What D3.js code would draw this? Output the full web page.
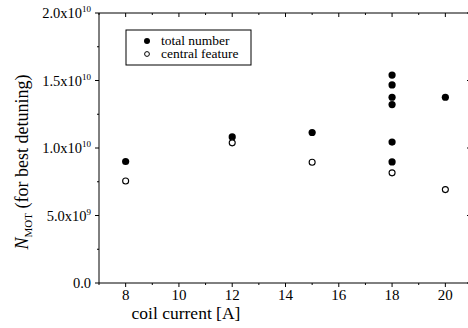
<!DOCTYPE html>
<html lang="en">
<head>
<meta charset="UTF-8" />
<title>N_MOT vs coil current</title>
<script src="https://d3js.org/d3.v7.min.js"></script>
<style>
    body { margin: 0; background: #fff; }
    svg, svg text, svg tspan { font-family: "Liberation Serif", "Times New Roman", "DejaVu Serif", serif; fill: #000; }
    .axis line { stroke: #000; stroke-width: 1; }
</style>
</head>
<body>
<svg width="468" height="328" font-family="Liberation Serif, serif"></svg>
<script>
    // data
    const totalCurrent = [8, 12, 15, 18, 18, 18, 18, 18, 18, 20];
    const totalNumber = [9.0e9, 10.82e9, 11.15e9, 15.4e9, 14.67e9, 13.76e9, 13.22e9, 10.44e9, 8.97e9, 13.76e9];
    const centralCurrent = [8, 12, 15, 18, 20];
    const centralNumber = [7.56e9, 10.38e9, 8.94e9, 8.16e9, 6.92e9];
    const xTicks = [8, 10, 12, 14, 16, 18, 20];
    const yTicks = [0, 5e9, 1e10, 1.5e10, 2e10];
    const legendLabels = ["total number", "central feature"];

    const svg = d3.select("svg");
    const plotLeft = 99, plotRight = 472, plotTop = 13, plotBottom = 283;
    const serif = "'Liberation Serif', 'Times New Roman', serif";

    const x = d3.scaleLinear().domain([7, 21]).range([plotLeft, plotRight]);
    const y = d3.scaleLinear().domain([0, 2e10]).range([plotBottom, plotTop]);

    const xMinor = d3.range(7, 22, 1).filter(v => !xTicks.includes(v));
    const yMinor = d3.range(2.5e9, 2e10, 5e9);

    // bottom axis
    const gx = svg.append("g").attr("class", "axis").attr("transform", `translate(0,${plotBottom})`);
    gx.append("line").attr("x1", plotLeft).attr("x2", plotRight);
    gx.selectAll(".maj").data(xTicks).enter().append("line")
        .attr("x1", d => x(d)).attr("x2", d => x(d)).attr("y1", 0).attr("y2", 4);
    gx.selectAll(".min").data(xMinor).enter().append("line")
        .attr("x1", d => x(d)).attr("x2", d => x(d)).attr("y1", 0).attr("y2", 2);
    gx.selectAll("text").data(xTicks).enter().append("text")
        .attr("x", d => x(d)).attr("y", 17)
        .attr("text-anchor", "middle").attr("font-size", "15px")
        .style("font-family", serif)
        .text(d => d);

    // top axis (ticks inward)
    const gt = svg.append("g").attr("class", "axis").attr("transform", `translate(0,${plotTop})`);
    gt.append("line").attr("x1", plotLeft).attr("x2", plotRight);
    gt.selectAll(".maj").data(xTicks).enter().append("line")
        .attr("x1", d => x(d)).attr("x2", d => x(d)).attr("y1", 0).attr("y2", 4);
    gt.selectAll(".min").data(xMinor).enter().append("line")
        .attr("x1", d => x(d)).attr("x2", d => x(d)).attr("y1", 0).attr("y2", 2);

    // left axis
    const gy = svg.append("g").attr("class", "axis").attr("transform", `translate(${plotLeft},0)`);
    gy.append("line").attr("y1", plotTop).attr("y2", plotBottom);
    gy.selectAll(".maj").data(yTicks).enter().append("line")
        .attr("y1", d => y(d)).attr("y2", d => y(d)).attr("x1", 0).attr("x2", -4);
    gy.selectAll(".min").data(yMinor).enter().append("line")
        .attr("y1", d => y(d)).attr("y2", d => y(d)).attr("x1", 0).attr("x2", -2);

    const ylab = gy.selectAll("text").data(yTicks).enter().append("text")
        .attr("x", -8).attr("y", d => y(d) + 5)
        .attr("text-anchor", "end").attr("font-size", "14.5px")
        .style("font-family", serif);
    ylab.each(function(d) {
        const t = d3.select(this);
        if (d === 0) { t.text("0.0"); return; }
        const e = Math.floor(Math.log10(d));
        const m = d / Math.pow(10, e);
        t.append("tspan").text(m.toFixed(1) + "x10");
        t.append("tspan").attr("dy", -6).attr("font-size", "9px").text(e);
    });

    // right axis (mostly outside the window)
    const gr = svg.append("g").attr("class", "axis").attr("transform", `translate(${plotRight},0)`);
    gr.append("line").attr("y1", plotTop).attr("y2", plotBottom);
    gr.selectAll(".maj").data(yTicks).enter().append("line")
        .attr("y1", d => y(d)).attr("y2", d => y(d)).attr("x1", 0).attr("x2", -5);

    // axis titles
    svg.append("text")
        .attr("x", 186).attr("y", 319)
        .attr("text-anchor", "middle").attr("font-size", "17.5px")
        .style("font-family", serif)
        .text("coil current [A]");

    const yt = svg.append("text")
        .attr("transform", "translate(28,162) rotate(-90)")
        .attr("text-anchor", "middle").attr("font-size", "18px")
        .style("font-family", serif);
    yt.append("tspan").attr("font-style", "italic").text("N");
    yt.append("tspan").attr("dy", 4).attr("font-size", "11px").text("MOT");
    yt.append("tspan").attr("dy", -4).text(" (for best detuning)");

    // data points
    const totals = totalCurrent.map((c, i) => ({ c: c, n: totalNumber[i] }));
    const centrals = centralCurrent.map((c, i) => ({ c: c, n: centralNumber[i] }));

    svg.selectAll(".total").data(totals).enter().append("circle")
        .attr("class", "total")
        .attr("cx", d => x(d.c)).attr("cy", d => y(d.n))
        .attr("r", 3.6).attr("fill", "#000");

    svg.selectAll(".central").data(centrals).enter().append("circle")
        .attr("class", "central")
        .attr("cx", d => x(d.c)).attr("cy", d => y(d.n))
        .attr("r", 3).attr("fill", "#fff").attr("stroke", "#000").attr("stroke-width", 1.1);

    // legend
    const lg = svg.append("g");
    lg.append("rect").attr("x", 126).attr("y", 30).attr("width", 125).attr("height", 35)
        .attr("fill", "#fff").attr("stroke", "#000").attr("stroke-width", 1);
    lg.append("circle").attr("cx", 147).attr("cy", 41).attr("r", 3).attr("fill", "#000");
    lg.append("circle").attr("cx", 147).attr("cy", 54).attr("r", 2.4)
        .attr("fill", "#fff").attr("stroke", "#000").attr("stroke-width", 1);
    lg.selectAll("text").data(legendLabels).enter().append("text")
        .attr("x", 161).attr("y", (d, i) => 44.5 + i * 13.5)
        .attr("font-size", "13.5px")
        .style("font-family", serif)
        .text(d => d);
</script>
</body>
</html>
